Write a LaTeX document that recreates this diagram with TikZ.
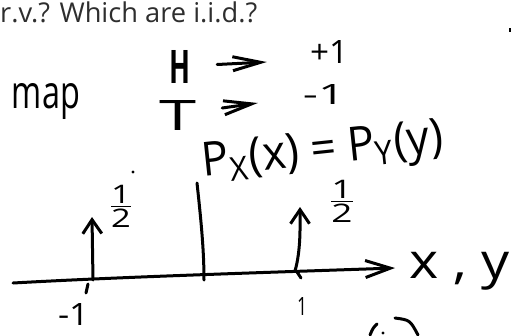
\documentclass[tikz,border=0pt]{standalone}
\usepackage{fontspec}
\setmainfont{Open Sans}
\usetikzlibrary{arrows.meta,calc}
\definecolor{topgray}{HTML}{2E2E2E}
\newcommand{\hwfit}[3]{\resizebox*{#1pt}{#2pt}{#3}}
\begin{document}
\begin{tikzpicture}[x=1pt,y=-1pt,
  ink/.style={line width=3pt, line cap=round, line join=round, black},
  hw/.style={inner sep=0pt, anchor=center, text=black},
  flatarrow/.style={ink, -{Straight Barb[length=28pt,width=14pt]}},
  uparrow/.style={ink, -{Straight Barb[length=14pt,width=19pt]}},
  axisarrow/.style={ink, -{Straight Barb[length=25pt,width=17pt]}}]
\useasboundingbox (0,0) rectangle (511,335);

% typed heading
\node[anchor=base west, inner sep=0pt, text=topgray] (title) at (0,22)
  {\resizebox{257pt}{!}{r.v.? Which are i.i.d.?}};
\fill[black] (509.3,28) rectangle (511,32);

% handwritten text
\node[hw] (map) at (46,102) {\hwfit{68}{36}{map}};
\node[hw] (H) at (179.5,66.5) {\hwfit{21}{33}{\bfseries H}};
\node[hw] (p1) at (329,51.5) {\hwfit{38}{23}{+1}};
\node[hw] (T) at (178.5,115) {\hwfit{37}{30}{T}};
\node[hw] (m1) at (324,94) {\hwfit{42}{20}{-1}};
\node[hw, rotate=6] (eq) at (323,153)
  {\hwfit{242}{45}{P\textsubscript{X}(x) = P\textsubscript{Y}(y)}};
\node[hw] (hL) at (121,206) {\hwfit{28}{42}{$\frac{\mbox{1}}{\mbox{2}}$}};
\node[hw] (hR) at (342,201) {\hwfit{30}{42}{$\frac{\mbox{1}}{\mbox{2}}$}};
\node[hw] (lm1) at (73.5,314) {\hwfit{31}{22}{-1}};
\node[hw] (r1) at (302,306) {\hwfit{10}{18}{1}};
\node[hw] (xy) at (460,271) {\hwfit{100}{38}{x , y}};

% mapping arrows
\draw[flatarrow] ($(H.east)+(27,-2)$) -- ($(p1.west)+(-43,10.5)$);
\draw[flatarrow] ($(T.east)+(25,-7)$) -- ($(m1.west)+(-45,9)$);

% axes
\coordinate (axL) at (13,283);
\coordinate (axR) at (395,268);
\draw[axisarrow] (axL) .. controls (120,277) and (250,273) .. (axR);
\coordinate (yT) at (197,183);
\coordinate (yB) at (204,280);
\draw[ink] (yT) .. controls (201,220) and (204,250) .. (yB);

% impulses
\coordinate (la0) at (93,280);
\coordinate (la1) at (92,217);
\draw[uparrow] (la0) -- (la1);
\coordinate (ra0) at (295,271);
\coordinate (ra1) at (300,207);
\draw[uparrow] (ra0) .. controls (301,250) and (300,225) .. (ra1);

% ticks
\coordinate (tl0) at (88,284);
\coordinate (tl1) at (86,293);
\draw[ink] (tl0) -- (tl1);
\coordinate (tr0) at (297,272);
\coordinate (tr1) at (301,278);
\draw[ink] (tr0) -- (tr1);

% stray marks
\fill[black] (133,172) circle (1.6);
\draw[ink] (377,324) .. controls (373,328) .. (370,335);
\fill[black] (383,333) circle (1.6);
\draw[ink] (395,318) .. controls (410,320) .. (418,335);
\end{tikzpicture}
\end{document}
